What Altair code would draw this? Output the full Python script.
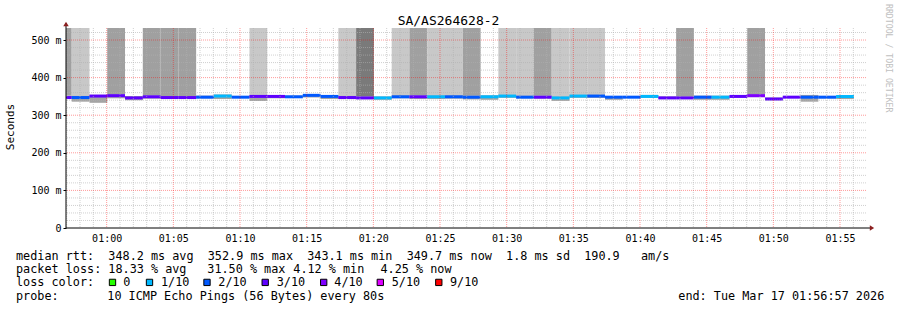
import altair as alt
import pandas as pd

FONT = "DejaVu Sans Mono"
NB = "\u00a0"

# ---------------- data ----------------
# time in minutes after 00:00
T_START = 56 + 57 / 60      # 00:56:57
T_END = 116 + 57 / 60       # 01:56:57
STEP_MIN = 80 / 60          # 80 s step
FIRST_EDGE = 57 + 22.6 / 60
Y_MAX = 532

median_ms = [347, 347, 351, 352, 346, 349, 347, 347, 348, 351,
             348, 350, 350, 349, 352.9, 350, 347, 346, 346, 349,
             349, 349, 349, 348, 349, 351, 348, 348, 346, 351,
             351, 348, 348, 350, 346, 346, 348, 348, 350, 352,
             343.1, 348, 348, 348, 349.7]
loss_tenths = [3, 2, 3, 3, 3, 3, 3, 3, 2, 1,
               2, 3, 3, 2, 2, 2, 3, 3, 1, 2,
               3, 1, 2, 2, 1, 1, 2, 3, 1, 1,
               2, 2, 2, 1, 3, 3, 2, 1, 3, 4,
               3, 3, 2, 2, 1]
smoke_lo_ms = [345, 336, 333, 345, 340, 344, 344, 344, 345, 343,
               346, 338, 345, 346, 347, 343, 343, 343, 341, 345,
               343, 343, 344, 342, 341, 346, 345, 344, 338, 346,
               346, 341, 346, 346, 344, 344, 341, 341, 347, 348,
               340, 346, 336, 345, 343]
smoke_hi_ms = [352, 352, 354, 355, 351, 353, 351, 351, 352, 355,
               351, 354, 353, 352, 355, 353, 352, 351, 350, 353,
               353, 353, 353, 352, 353, 355, 352, 352, 350, 355,
               355, 351, 351, 354, 350, 350, 352, 352, 353, 356,
               347, 351, 354, 351, 353]
# 0 = none, 1 = light, 2 = medium, 3 = dark (pings above the top of the graph)
high_shade = [2, 1, 0, 2, 0, 2, 2, 2, 0, 0,
              0, 1, 0, 0, 0, 0, 1, 3, 0, 1,
              2, 1, 1, 2, 0, 1, 1, 2, 1, 1,
              1, 0, 0, 0, 0, 2, 0, 0, 0, 2,
              0, 0, 0, 0, 0]

loss_levels = [0, 1, 2, 3, 4, 5, 9]
loss_labels = ["0", "1/10", "2/10", "3/10", "4/10", "5/10", "9/10"]
loss_colors = ["#26ff00", "#00b8ff", "#0059ff", "#5e00ff", "#7e00ff", "#dd00ff", "#ff0000"]
shade_levels = [1, 2, 3]
shade_colors = ["#c8c8c8", "#a0a0a0", "#7a7a7a"]

x_ticks = list(range(60, 116, 5))
y_ticks = [0, 100, 200, 300, 400, 500]
v_minor = [m for m in range(57, 117) if m % 5]
v_major = list(range(60, 117, 5))
h_minor = [v for v in range(20, Y_MAX, 20) if v % 100]
h_major = [100, 200, 300, 400, 500]

title_text = "SA/AS264628-2"
y_title = "Seconds"
watermark = "RRDTOOL / TOBI OETIKER"
legend_rows = [
    ("median rtt:  348.2 ms avg  352.9 ms max  343.1 ms min  349.7 ms now  1.8 ms sd  190.9   am/s", 16, 259.6),
    ("packet loss: 18.33 % avg", 16, 272.9),
    ("31.50 % max", 207.3, 272.9),
    ("4.12 % min", 293.3, 272.9),
    ("4.25 % now", 380.5, 272.9),
    ("loss color:", 16, 286.2),
    ("probe:", 16, 299.6),
    ("10 ICMP Echo Pings (56 Bytes) every 80s", 107.3, 299.6),
    ("end: Tue Mar 17 01:56:57 2026", 678.3, 299.6),
]
swatch_x = [112.5, 149.5, 207, 265.2, 323.7, 380.3, 438.8]
swatch_label_x = [123.3, 161, 218.3, 276.7, 334.3, 391.7, 450]

# ---------------- layout ----------------
PL, PT, W, H = 66, 28, 800, 200
FS = 11.8

rows = []
for k in range(len(median_ms)):
    t0 = T_START if k == 0 else FIRST_EDGE + (k - 1) * STEP_MIN
    t1 = FIRST_EDGE + k * STEP_MIN
    rows.append(dict(t0=t0, t1=t1, med=median_ms[k], lo=smoke_lo_ms[k],
                     hi=smoke_hi_ms[k], loss=loss_tenths[k], shade=high_shade[k],
                     top=Y_MAX))
df = pd.DataFrame(rows)

xs = alt.Scale(domain=[T_START, T_END], nice=False, zero=False)
ys = alt.Scale(domain=[0, Y_MAX], nice=False, zero=False)

x_axis = alt.Axis(values=x_ticks, title=None, grid=False, ticks=False, domain=False,
                  labelFont=FONT, labelFontSize=10, labelColor="black", labelPadding=5,
                  labelFlush=False, labelOverlap=False,
                  labelExpr="'0' + floor(datum.value/60) + ':' + (datum.value % 60 < 10 ? '0' : '') + (datum.value % 60)")
y_axis = alt.Axis(values=y_ticks, title=None, grid=False, domain=False, ticks=True,
                  tickSize=3, tickColor="black", labelPadding=2,
                  labelFont=FONT, labelFontSize=10, labelColor="black",
                  labelFlush=False, labelOverlap=False,
                  labelExpr="datum.value == 0 ? '0" + NB + NB + "' : datum.value + ' m'")


def X(f):
    return alt.X(f, scale=xs, axis=x_axis)


def Y(f):
    return alt.Y(f, scale=ys, axis=y_axis)


high = alt.Chart(df[df.shade > 0]).mark_rect().encode(
    x=X("t0:Q"), x2="t1:Q", y=Y("hi:Q"), y2="top:Q",
    fill=alt.Fill("shade:N", scale=alt.Scale(domain=shade_levels, range=shade_colors), legend=None),
)

band = alt.Chart(df).mark_rect(color="#a4a4a4").encode(
    x=X("t0:Q"), x2="t1:Q", y=Y("lo:Q"), y2="hi:Q",
)

median = alt.Chart(df).mark_rule(strokeWidth=3).encode(
    x=X("t0:Q"), x2="t1:Q", y=Y("med:Q"),
    color=alt.Color("loss:N", scale=alt.Scale(domain=loss_levels, range=loss_colors), legend=None),
)


def vgrid(vals, color, op):
    return alt.Chart(pd.DataFrame({"m": vals})).mark_rule(
        stroke=color, strokeOpacity=op, strokeDash=[1, 1], strokeWidth=1).encode(x=X("m:Q"))


def hgrid(vals, color, op):
    return alt.Chart(pd.DataFrame({"v": vals})).mark_rule(
        stroke=color, strokeOpacity=op, strokeDash=[1, 1], strokeWidth=1).encode(y=Y("v:Q"))


dummy = alt.Data(values=[{}])
x_line = alt.Chart(dummy).mark_rule(color="black", strokeWidth=1).encode(
    x=alt.value(0), x2=alt.value(W + 6), y=alt.value(H))
y_line = alt.Chart(dummy).mark_rule(color="black", strokeWidth=1).encode(
    x=alt.value(0), y=alt.value(H), y2=alt.value(-5))
arrow_up = alt.Chart(dummy).mark_point(shape="M-1,0.8L1,0.8L0,-0.8Z", size=30, filled=True,
                                        color="#8c2020", opacity=1).encode(
    x=alt.value(0), y=alt.value(-4))
arrow_right = alt.Chart(dummy).mark_point(shape="M-0.8,-1L-0.8,1L0.8,0Z", size=30, filled=True,
                                           color="#8c2020", opacity=1).encode(
    x=alt.value(W + 6), y=alt.value(H))


def txt(s, x, y, size=FS, align="left", baseline="alphabetic", angle=0, color="black"):
    kw = dict(text=s.replace(" ", NB), font=FONT, fontSize=size, align=align,
              baseline=baseline, color=color)
    if angle:
        kw["angle"] = angle
    return alt.Chart(dummy).mark_text(**kw).encode(x=alt.value(x - PL), y=alt.value(y - PT))


texts = [txt(title_text, 448.5, 25, size=13, align="center"),
         txt(y_title, 11, 127, size=11, align="center", baseline="middle", angle=270),
         txt(watermark, 888, 4, size=8.2, align="left", baseline="middle", angle=90, color="#c0c0c0")]
for s, x, y in legend_rows:
    texts.append(txt(s, x, y))

swatches = []
for lvl, col, sx, lx, lab in zip(loss_levels, loss_colors, swatch_x, swatch_label_x, loss_labels):
    swatches.append(alt.Chart(dummy).mark_square(size=40, opacity=1, fill=col, stroke="black",
                                                 strokeWidth=1).encode(
        x=alt.value(sx - PL), y=alt.value(282.4 - PT)))
    swatches.append(txt(lab, lx, 286.2))

chart = alt.layer(
    high, band, median,
    vgrid(v_minor, "#b0b0b0", 0.6), hgrid(h_minor, "#b0b0b0", 0.6),
    vgrid(v_major, "#ff0000", 0.4), hgrid(h_major, "#ff0000", 0.4),
    x_line, y_line, arrow_up, arrow_right,
    *swatches, *texts,
).resolve_scale(fill="independent", color="independent").properties(
    width=W, height=H,
    padding={"left": PL, "top": PT, "right": 897 - PL - W, "bottom": 310 - PT - H},
    autosize=alt.AutoSizeParams(type="none"),
    background="white",
).configure_view(stroke=None)

chart.save("out.html", embed_options={"renderer": "svg", "actions": False})
